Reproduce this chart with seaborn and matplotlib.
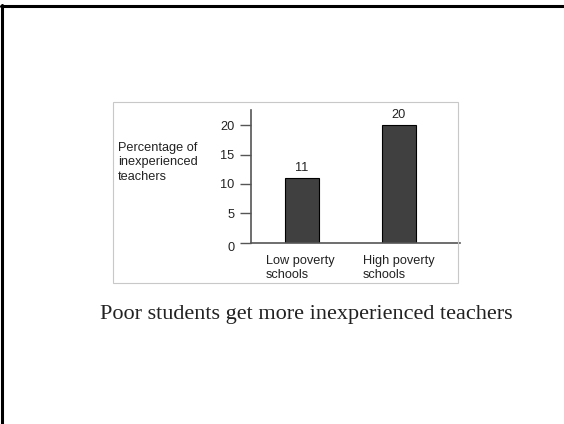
import matplotlib
matplotlib.use("Agg")
import matplotlib.pyplot as plt
from matplotlib.patches import Rectangle
from matplotlib.lines import Line2D
from matplotlib.transforms import ScaledTranslation
import seaborn as sns
import pandas as pd

# data
categories = ["Low poverty\nschools", "High poverty\nschools"]
values = [11, 20]
y_ticks = [0, 5, 10, 15, 20]
y_label = "Percentage of\ninexperienced\nteachers"
caption = "Poor students get more inexperienced teachers"

W, H = 564, 424
DPI = 100
FS = 9.2

sns.set_style("white")
plt.rcParams["font.family"] = ["Liberation Sans", "DejaVu Sans"]

fig = plt.figure(figsize=(W / DPI, H / DPI), dpi=DPI)


def fx(px):
    return px / W


def fy(py):
    return 1 - py / H


# slide border (top and left)
fig.add_artist(Line2D([fx(1), fx(564)], [fy(6), fy(6)], color="black", lw=2.2))
fig.add_artist(Line2D([fx(2), fx(2)], [fy(5), fy(424)], color="black", lw=2.2))

# light frame around the chart
fig.add_artist(Rectangle((fx(113), fy(283)), fx(458) - fx(113), fy(102) - fy(283),
                         transform=fig.transFigure, fill=False,
                         edgecolor="#c8c8c8", lw=0.8))

ax = fig.add_axes([fx(251), fy(242.5), fx(460) - fx(251), fy(110) - fy(242.5)])
df = pd.DataFrame({"cat": categories, "val": values})
sns.barplot(data=df, x="cat", y="val", color="#404040", edgecolor="black",
            linewidth=0.8, width=0.35, saturation=1, ax=ax)

ax.set_xlim(-0.526, 1.63)
ax.set_ylim(0, 22.6)
ax.set_yticks(y_ticks)
ax.set_yticklabels([str(t) for t in y_ticks], fontsize=FS, color="#222222")
ax.tick_params(axis="y", direction="out", length=8, width=1, color="#555555",
               left=True, pad=4)
ax.tick_params(axis="x", length=0, pad=9)
# the zero label sits a bit below the axis line
zero = ax.get_yticklabels()[0]
zero.set_transform(zero.get_transform() + ScaledTranslation(0, -4 / DPI, fig.dpi_scale_trans))
for lab in ax.get_xticklabels():
    lab.set_fontsize(FS)
    lab.set_color("#222222")
    lab.set_ha("left")
    lab.set_linespacing(1.2)
    lab.set_transform(lab.get_transform() + ScaledTranslation(-36 / DPI, 0, fig.dpi_scale_trans))
ax.set_xlabel("")
ax.set_ylabel("")
for side in ["top", "right"]:
    ax.spines[side].set_visible(False)
for side in ["left", "bottom"]:
    ax.spines[side].set_color("#555555")
    ax.spines[side].set_linewidth(1.2)
ax.patch.set_alpha(0)

for i, v in enumerate(values):
    ax.annotate(str(v), (i, v), xytext=(0, 3), textcoords="offset points",
                ha="center", va="bottom", fontsize=FS, color="#222222")

fig.text(fx(118), fy(142), y_label, fontsize=FS, color="#222222",
         ha="left", va="top", linespacing=1.25)

fig.text(fx(306.5), fy(314), caption, fontsize=16, color="#222222",
         ha="center", va="center", family=["Liberation Serif", "DejaVu Serif"])

fig.savefig("out.png", dpi=DPI)
